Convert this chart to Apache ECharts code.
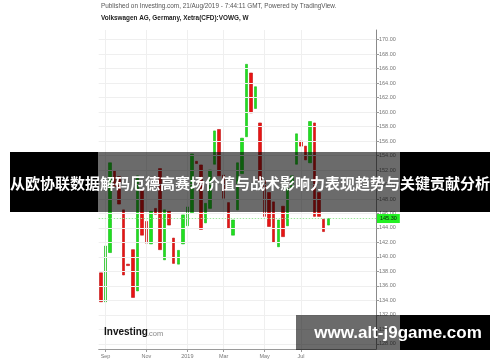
<!DOCTYPE html>
<html>
<head>
<meta charset="utf-8">
<script src="https://cdn.jsdelivr.net/npm/echarts@6/dist/echarts.min.js"></script>
<style>
html,body{margin:0;padding:0;background:#fff;}
#c{width:500px;height:362px;}
</style>
</head>
<body>
<div id="c"></div>
<script>
// ---- data (weekly candles) ----
const opens  = [137.8,133.8,140.6,151.9,151.1,146.5,139.0,141.0,135.3,149.2,144.9,141.8,146.7,152.2,139.6,146.3,142.6,139.0,141.8,144.3,
                146.1,153.2,152.7,144.7,146.7,152.8,157.6,151.3,147.5,143.0,146.5,151.5,156.6,165.4,160.5,158.5,150.5,148.9,147.6,141.4,
                147.0,144.3,149.6,152.8,156.0,155.3,153.0,158.5,148.9,145.2,144.4];
const closes = [133.8,141.5,153.0,149.7,147.3,137.5,138.8,134.4,151.2,143.0,141.9,146.3,145.9,141.0,146.5,144.4,139.1,140.9,145.8,146.9,
                154.2,152.9,143.8,147.4,152.0,157.4,151.2,148.1,144.0,145.1,153.0,156.4,166.6,159.9,163.5,150.6,145.6,144.2,142.0,145.1,
                142.8,149.5,151.2,157.0,155.3,153.4,158.7,145.6,145.6,143.5,145.3];
const lows   = [132.3,133.4,140.0,146.1,146.7,135.0,136.1,130.0,135.0,141.9,140.0,140.7,145.6,137.3,138.4,143.7,137.3,134.7,141.2,143.7,
                143.5,152.4,143.0,143.3,146.0,152.2,150.4,146.9,143.0,142.1,146.0,151.1,156.1,159.4,158.7,149.7,144.6,142.8,140.0,140.0,
                142.3,144.0,147.6,152.5,154.1,151.8,152.5,144.6,145.1,140.7,144.0];
const highs  = [138.5,142.1,154.9,152.9,152.5,147.9,142.3,142.3,155.9,150.6,147.9,147.9,147.4,152.9,147.9,147.9,143.7,141.6,147.9,148.8,
                154.5,153.4,153.6,148.3,153.4,158.5,158.5,153.2,148.3,145.6,155.2,157.1,167.0,166.7,164.7,158.9,151.1,149.2,148.3,146.0,
                147.9,150.4,152.7,158.5,158.9,156.4,164.2,158.7,149.0,147.0,145.6];
const lastPrice = 145.30;
const emptyWeeksRight = 10;
const firstWeek = '2018-08-27';
const tickIndex = [1, 10, 19, 27, 36, 44];
const tickText  = ['Sep', 'Nov', '2019', 'Mar', 'May', 'Jul'];
const yTicks = [128,130,132,134,136,138,140,142,144,146,148,150,152,154,156,158,160,162,164,166,168,170];

// categories: weekly dates
const categories = [];
(function(){
  const d0 = new Date(firstWeek + 'T00:00:00Z');
  for (let i = 0; i < opens.length + emptyWeeksRight; i++) {
    const d = new Date(d0.getTime() + i * 7 * 86400000);
    categories.push(d.toISOString().slice(0,10));
  }
})();

const GREEN = '#1fe01f', GREEN_B = '#17b817';
const RED = '#e81414', RED_B = '#c01010';

const wickData = opens.map((o,i)=>[lows[i], highs[i], lows[i], highs[i]]);
const bodyData = opens.map((o,i)=>{
  const c = closes[i];
  return [o, c, Math.min(o,c), Math.max(o,c)];
});

const chart = echarts.init(document.getElementById('c'), null, {renderer:'canvas'});
const isTick = (idx)=> tickIndex.indexOf(idx) >= 0;

chart.setOption({
  animation: false,
  backgroundColor: '#ffffff',
  grid: {left: 98.7, right: 124, top: 30, bottom: 13},
  xAxis: {
    type: 'category',
    data: categories,
    boundaryGap: true,
    axisLine: {show: true, lineStyle: {color: '#9a9a9a', width: 1}},
    axisTick: {show: true, alignWithLabel: true, interval: isTick, length: 3, lineStyle: {color: '#9a9a9a'}},
    axisLabel: {
      interval: isTick, margin: 4, fontSize: 5.5, color: '#777',
      fontFamily: 'Liberation Sans, Arial, sans-serif',
      formatter: (v, idx) => { const k = tickIndex.indexOf(idx); return k >= 0 ? tickText[k] : ''; }
    },
    splitLine: {show: false}
  },
  yAxis: {
    type: 'value',
    position: 'right',
    min: 127.28, max: 171.34,
    scale: true,
    axisLine: {show: true, lineStyle: {color: '#8a8a8a', width: 1}},
    axisTick: {show: true, customValues: yTicks, length: 3, lineStyle: {color: '#9a9a9a'}},
    axisLabel: {
      customValues: yTicks, margin: 3, fontSize: 5.5, color: '#777',
      fontFamily: 'Liberation Sans, Arial, sans-serif',
      formatter: v => v.toFixed(2)
    },
    splitLine: {show: false}
  },
  series: [
    {
      type: 'line', z: 1, data: categories.map(()=>null), silent: true, symbol: 'none',
      markLine: {
        silent: true, symbol: 'none', animation: false,
        label: {show: false},
        lineStyle: {color: '#efefef', width: 1, type: 'solid'},
        data: yTicks.map(v => ({yAxis: v})).concat(tickIndex.map(i => ({xAxis: categories[i]})))
      }
    },
    {
      type: 'candlestick', z: 2, barWidth: 1, data: wickData, silent: true,
      itemStyle: {color: '#9c9c9c', color0: '#9c9c9c', borderColor: '#9c9c9c', borderColor0: '#9c9c9c', borderWidth: 0}
    },
    {
      type: 'candlestick', z: 3, barWidth: 3, data: bodyData, silent: true,
      itemStyle: {color: GREEN, color0: RED, borderColor: GREEN_B, borderColor0: RED_B, borderWidth: 0.6},
      markLine: {
        silent: true, symbol: 'none', animation: false,
        lineStyle: {color: '#9fe89f', width: 1, type: [1.5, 1.5]},
        label: {
          show: true, position: 'end', distance: 1,
          formatter: () => lastPrice.toFixed(2),
          backgroundColor: '#22f022', color: '#111', fontSize: 5.5,
          fontFamily: 'Liberation Sans, Arial, sans-serif',
          padding: [2, 3, 1, 3]
        },
        data: [{yAxis: lastPrice}]
      }
    }
  ],
  graphic: [
    {type: 'text', left: 101, top: 3, z: 50, style: {text: 'Published on Investing.com, 21/Aug/2019 - 7:44:11 GMT, Powered by TradingView.', font: '6.4px "Liberation Sans", Arial, sans-serif', fill: '#555'}},
    {type: 'text', left: 101, top: 15, z: 50, style: {text: 'Volkswagen AG, Germany, Xetra(CFD):VOWG, W', font: 'bold 6.4px "Liberation Sans", Arial, sans-serif', fill: '#222'}},
    {type: 'text', left: 104, top: 327, z: 50, style: {text: 'Investing', font: 'bold 10px "Liberation Sans", Arial, sans-serif', fill: '#111'}},
    {type: 'text', left: 147, top: 330, z: 50, style: {text: '.com', font: '7.5px "Liberation Sans", Arial, sans-serif', fill: '#888'}},
    // title banner
    {type: 'rect', z: 60, shape: {x: 10, y: 152, width: 88, height: 60}, style: {fill: '#000'}},
    {type: 'rect', z: 60, shape: {x: 98, y: 152, width: 302, height: 60}, style: {fill: 'rgba(0,0,0,0.58)'}},
    {type: 'rect', z: 60, shape: {x: 400, y: 152, width: 90, height: 60}, style: {fill: '#000'}},
    {type: 'text', z: 61, x: 250, y: 183, style: {text: '从欧协联数据解码厄德高赛场价值与战术影响力表现趋势与关键贡献分析', font: 'bold 15px "Noto Sans CJK SC", sans-serif', fill: '#fff', align: 'center', verticalAlign: 'middle'}},
    // bottom-right watermark
    {type: 'rect', z: 60, shape: {x: 296, y: 315, width: 104, height: 35}, style: {fill: 'rgba(0,0,0,0.58)'}},
    {type: 'rect', z: 60, shape: {x: 400, y: 315, width: 90, height: 35}, style: {fill: '#000'}},
    {type: 'text', z: 61, x: 398, y: 333, style: {text: 'www.alt-j9game.com', font: 'bold 17px "Liberation Sans", Arial, sans-serif', fill: '#fff', align: 'center', verticalAlign: 'middle'}}
  ]
});
</script>
</body>
</html>
